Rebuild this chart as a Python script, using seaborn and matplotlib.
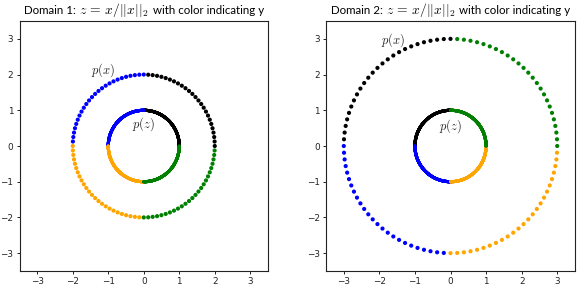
import numpy as np
import pandas as pd
import matplotlib
matplotlib.use("Agg")
import matplotlib.pyplot as plt
from matplotlib.offsetbox import TextArea, HPacker, AnchoredOffsetbox
import seaborn as sns

# ---- data ----
n_outer = 100                      # sampled points on p(x)
n_inner = 2000                     # dense points on p(z) (unit circle)
class_colors = ["black", "blue", "orange", "green"]   # y = quadrant class 0..3
domain_radius = [2, 3]             # radius of x in each domain
domain_rotation_deg = [0, 90]      # rotation of x in each domain
title_prefix = ["Domain 1:", "Domain 2:"]
title_math = r"$z\,=\,x/\left||x|\right|_2$"
title_suffix = "with color indicating y"
ticks = [-3, -2, -1, 0, 1, 2, 3]
px_label_pos = [(-1.15, 2.13), (-1.6, 2.97)]
pz_label_pos = [(0.0, 0.62), (0.0, 0.56)]

sns.set_theme(style="ticks")
plt.rcParams["mathtext.fontset"] = "cm"
plt.rcParams["font.family"] = ["DejaVu Sans"]

fig = plt.figure(figsize=(5.81, 2.85), dpi=100)
W, H = 581, 285
axes = [fig.add_axes([19.5 / W, 14 / H, 248.5 / W, 250 / H]),
        fig.add_axes([326 / W, 14 / H, 249 / W, 250 / H])]

palette = {i: c for i, c in enumerate(class_colors)}

for k, ax in enumerate(axes):
    rot = np.deg2rad(domain_rotation_deg[k])
    r = domain_radius[k]
    # outer samples
    idx = np.arange(n_outer)
    th = 2 * np.pi * idx / n_outer
    cls = idx * 4 // n_outer
    df_x = pd.DataFrame({"x": r * np.cos(th + rot), "y": r * np.sin(th + rot), "c": cls})
    # inner (normalized) samples
    idz = np.arange(n_inner)
    thz = 2 * np.pi * idz / n_inner
    clz = idz * 4 // n_inner
    df_z = pd.DataFrame({"x": np.cos(thz + rot), "y": np.sin(thz + rot), "c": clz})

    sns.scatterplot(data=df_z, x="x", y="y", hue="c", palette=palette, s=5,
                    linewidth=0, legend=False, ax=ax)
    sns.scatterplot(data=df_x, x="x", y="y", hue="c", palette=palette, s=9,
                    linewidth=0, legend=False, ax=ax)

    ax.set_xlim(-3.5, 3.5)
    ax.set_ylim(-3.5, 3.5)
    ax.set_xticks(ticks)
    ax.set_yticks(ticks)
    ax.set_xlabel("")
    ax.set_ylabel("")
    ax.tick_params(labelsize=6.4, length=2.5, width=0.7, colors="#222222", pad=2)
    for sp in ax.spines.values():
        sp.set_color("#222222")
        sp.set_linewidth(0.8)

    tp = dict(fontsize=8.3, family=["Lato", "DejaVu Sans"], color="black")
    parts = [TextArea(title_prefix[k], textprops=tp),
             TextArea(title_math, textprops=dict(fontsize=9.8, color="black")),
             TextArea(title_suffix, textprops=tp)]
    box = HPacker(children=parts, align="baseline", pad=0, sep=2.5)
    anch = AnchoredOffsetbox(loc="lower center", child=box, pad=0, borderpad=0,
                             frameon=False, bbox_to_anchor=(0.5, 1.008),
                             bbox_transform=ax.transAxes)
    ax.add_artist(anch)

    ax.text(*px_label_pos[k], r"$p(x)$", fontsize=9, ha="center", va="center")
    ax.text(*pz_label_pos[k], r"$p(z)$", fontsize=9, ha="center", va="center")

fig.savefig("out.png", dpi=100)
